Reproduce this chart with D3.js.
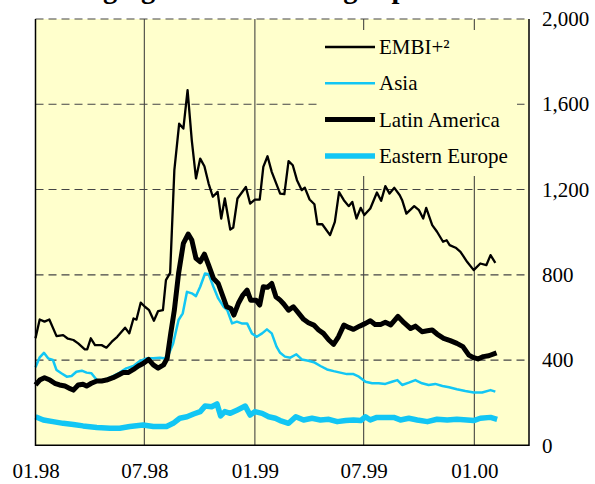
<!DOCTYPE html>
<html>
<head>
<meta charset="utf-8">
<script src="https://cdn.jsdelivr.net/npm/d3@7"></script>
<style>
  body { margin: 0; background: #fff; }
  svg { display: block; }
  text { font-family: "Liberation Serif", "Times New Roman", serif; }
</style>
</head>
<body>
<svg id="canvas"></svg>
<script>
let width = 595
let height = 484

// series: [date, spread in basis points]
let embi = [
  ['1998-01-01',502],['1998-01-08',590],['1998-01-16',580],['1998-01-24',590],['1998-02-05',512],
  ['1998-02-16',517],['1998-02-24',500],['1998-03-05',494],['1998-03-13',478],['1998-03-24',450],
  ['1998-03-28',450],['1998-04-03',502],['1998-04-10',470],['1998-04-21',470],['1998-04-29',458],
  ['1998-05-08',486],['1998-05-17',509],['1998-05-30',552],['1998-06-06',525],['1998-06-13',595],
  ['1998-06-18',590],['1998-06-25',669],['1998-07-02',650],['1998-07-09',634],['1998-07-17',584],
  ['1998-07-24',630],['1998-08-01',634],['1998-08-06',775],['1998-08-13',809],['1998-08-20',1291],
  ['1998-08-28',1509],['1998-09-04',1486],['1998-09-11',1666],['1998-09-18',1431],['1998-09-25',1252],
  ['1998-10-02',1345],['1998-10-09',1309],['1998-10-16',1228],['1998-10-23',1166],['1998-10-31',1189],
  ['1998-11-06',1064],['1998-11-12',1158],['1998-11-21',1012],['1998-11-26',1022],['1998-12-03',1158],
  ['1998-12-17',1212],['1998-12-24',1134],['1999-01-01',1153],['1999-01-09',1153],['1999-01-15',1306],
  ['1999-01-22',1356],['1999-01-29',1283],['1999-02-12',1181],['1999-02-19',1178],['1999-02-26',1333],
  ['1999-03-05',1314],['1999-03-12',1244],['1999-03-20',1197],['1999-03-25',1209],['1999-04-02',1153],
  ['1999-04-10',1131],['1999-04-15',1037],['1999-04-23',1037],['1999-05-06',986],['1999-05-14',1048],
  ['1999-05-21',1188],['1999-05-29',1150],['1999-06-06',1122],['1999-06-12',1142],['1999-06-19',1064],
  ['1999-06-26',1114],['1999-07-02',1080],['1999-07-12',1111],['1999-07-23',1186],['1999-07-30',1147],
  ['1999-08-06',1216],['1999-08-13',1181],['1999-08-21',1208],['1999-08-30',1173],['1999-09-03',1150],
  ['1999-09-10',1087],['1999-09-23',1122],['1999-10-01',1103],['1999-10-08',1064],['1999-10-13',1114],
  ['1999-10-23',1033],['1999-10-31',1002],['1999-11-10',955],['1999-11-16',962],['1999-11-21',939],
  ['1999-12-01',927],['1999-12-09',908],['1999-12-20',861],['1999-12-31',822],['2000-01-11',853],
  ['2000-01-21',845],['2000-01-28',892],['2000-02-05',856]
]

let asia = [
  ['1998-01-01',366],['1998-01-08',413],['1998-01-15',434],['1998-01-22',408],['1998-01-30',400],
  ['1998-02-05',353],['1998-02-13',338],['1998-02-22',322],['1998-03-02',325],['1998-03-10',345],
  ['1998-03-19',350],['1998-03-27',341],['1998-04-04',338],['1998-04-13',306],['1998-04-21',304],
  ['1998-04-29',310],['1998-05-10',325],['1998-05-21',341],['1998-06-01',361],['1998-06-13',372],
  ['1998-06-23',395],['1998-07-05',408],['1998-07-16',408],['1998-07-27',411],['1998-08-02',408],
  ['1998-08-09',416],['1998-08-18',478],['1998-08-27',588],['1998-09-03',619],['1998-09-10',720],
  ['1998-09-18',713],['1998-09-25',700],['1998-10-02',744],['1998-10-10',806],['1998-10-16',803],
  ['1998-10-24',744],['1998-11-01',689],['1998-11-10',650],['1998-11-16',634],['1998-11-24',572],
  ['1998-12-02',580],['1998-12-10',572],['1998-12-19',572],['1998-12-27',525],['1999-01-04',509],
  ['1999-01-13',525],['1999-01-21',544],['1999-01-29',525],['1999-02-06',463],['1999-02-12',434],
  ['1999-02-20',416],['1999-03-01',411],['1999-03-11',427],['1999-03-20',403],['1999-03-31',397],
  ['1999-04-09',390],['1999-04-20',372],['1999-05-01',356],['1999-05-12',348],['1999-05-23',341],
  ['1999-06-03',334],['1999-06-14',334],['1999-06-23',322],['1999-07-04',298],['1999-07-15',291],
  ['1999-07-26',291],['1999-08-06',288],['1999-08-17',298],['1999-08-26',306],['1999-09-03',283],
  ['1999-09-14',294],['1999-09-25',306],['1999-10-06',291],['1999-10-17',283],['1999-10-28',288],
  ['1999-11-09',278],['1999-11-20',272],['1999-12-03',263],['1999-12-17',255],['1999-12-31',248],
  ['2000-01-14',248],['2000-01-28',259],['2000-02-05',252]
]

let latin = [
  ['1998-01-01',283],['1998-01-08',306],['1998-01-16',317],['1998-01-25',306],['1998-02-02',291],
  ['1998-02-10',283],['1998-02-19',278],['1998-02-27',267],['1998-03-05',259],['1998-03-13',283],
  ['1998-03-21',286],['1998-03-27',278],['1998-04-04',291],['1998-04-13',302],['1998-04-21',302],
  ['1998-04-29',306],['1998-05-10',317],['1998-05-19',330],['1998-05-27',341],['1998-06-04',341],
  ['1998-06-13',356],['1998-06-21',372],['1998-06-29',384],['1998-07-08',403],['1998-07-16',377],
  ['1998-07-24',362],['1998-08-02',377],['1998-08-08',408],['1998-08-14',525],['1998-08-20',634],
  ['1998-08-27',806],['1998-09-04',947],['1998-09-12',991],['1998-09-18',963],['1998-09-25',877],
  ['1998-10-02',861],['1998-10-09',897],['1998-10-16',845],['1998-10-24',783],['1998-11-01',759],
  ['1998-11-09',697],['1998-11-15',650],['1998-11-22',642],['1998-11-27',611],['1998-12-05',669],
  ['1998-12-12',705],['1998-12-19',728],['1998-12-25',681],['1999-01-03',681],['1999-01-09',658],
  ['1999-01-15',744],['1999-01-22',741],['1999-01-29',759],['1999-02-05',697],['1999-02-12',681],
  ['1999-02-18',663],['1999-02-26',634],['1999-03-06',650],['1999-03-15',619],['1999-03-23',591],
  ['1999-03-31',575],['1999-04-09',564],['1999-04-17',541],['1999-04-25',525],['1999-05-04',494],
  ['1999-05-12',474],['1999-05-20',509],['1999-05-29',564],['1999-06-06',553],['1999-06-14',544],
  ['1999-06-24',559],['1999-07-04',572],['1999-07-12',584],['1999-07-20',567],['1999-07-29',567],
  ['1999-08-06',577],['1999-08-15',565],['1999-08-27',605],['1999-09-06',575],['1999-09-17',548],
  ['1999-09-25',559],['1999-10-06',533],['1999-10-15',537],['1999-10-23',541],['1999-10-31',522],
  ['1999-11-11',502],['1999-11-22',491],['1999-12-03',478],['1999-12-13',463],['1999-12-23',423],
  ['1999-12-31',411],['2000-01-07',405],['2000-01-16',416],['2000-01-25',420],['2000-02-07',434]
]

let eastEurope = [
  ['1998-01-01',134],['1998-01-14',119],['1998-01-30',111],['1998-02-16',103],['1998-03-05',98],
  ['1998-03-21',91],['1998-04-13',84],['1998-05-05',80],['1998-05-21',80],['1998-06-07',88],
  ['1998-06-29',95],['1998-07-16',88],['1998-08-07',88],['1998-08-18',103],['1998-08-29',127],
  ['1998-09-10',134],['1998-09-21',147],['1998-10-02',158],['1998-10-10',184],['1998-10-21',181],
  ['1998-10-30',194],['1998-11-05',138],['1998-11-12',158],['1998-11-21',150],['1998-12-03',166],
  ['1998-12-16',184],['1998-12-24',142],['1999-01-01',158],['1999-01-13',150],['1999-01-24',134],
  ['1999-02-04',127],['1999-02-12',116],['1999-02-26',103],['1999-03-10',134],['1999-03-23',119],
  ['1999-04-06',127],['1999-04-20',119],['1999-05-04',122],['1999-05-18',111],['1999-06-01',116],
  ['1999-06-14',119],['1999-06-26',116],['1999-07-04',134],['1999-07-12',119],['1999-07-23',131],
  ['1999-08-06',131],['1999-08-20',131],['1999-08-31',119],['1999-09-14',127],['1999-09-28',119],
  ['1999-10-15',111],['1999-10-31',122],['1999-11-17',119],['1999-12-03',122],['1999-12-20',119],
  ['1999-12-31',116],['2000-01-11',127],['2000-01-28',131],['2000-02-08',122]
]

let xTicks = ['1998-01-01','1998-07-01','1999-01-01','1999-07-01','2000-01-01']
let yTicks = [0, 400, 800, 1200, 1600, 2000]
let seriesNames = ['EMBI+\u00B2', 'Asia', 'Latin America', 'Eastern Europe']

let parse = d3.timeParse('%Y-%m-%d')
let cyan = '#12c6f4'
let styles = [
  {data: embi, color: '#000', w: 2.3},
  {data: asia, color: cyan, w: 2.5},
  {data: latin, color: '#000', w: 5},
  {data: eastEurope, color: cyan, w: 5.5}
]

let plotLeft = 35.5, plotRight = 529, plotTop = 19, plotBottom = 445.3

let xScale = d3.scaleTime()
  .domain([parse('1998-01-01'), parse('2000-04-01')])
  .range([plotLeft, plotRight])
let yScale = d3.scaleLinear().domain([0, 2000]).range([plotBottom, plotTop])

let canvas = d3.select('#canvas').attr('width', width).attr('height', height)

// title, clipped by the top edge as in the source
canvas.append('text')
  .attr('x', 35).attr('y', -2)
  .style('font-weight', 'bold').style('font-size', '28.5px')
  .text('Emerging market sovereign spreads')

canvas.append('rect')
  .attr('x', plotLeft).attr('y', plotTop)
  .attr('width', plotRight - plotLeft).attr('height', plotBottom - plotTop)
  .attr('fill', '#ffffcc')

// vertical grid
canvas.append('g').selectAll('line')
  .data(xTicks.slice(1)).enter().append('line')
  .attr('x1', d => xScale(parse(d))).attr('x2', d => xScale(parse(d)))
  .attr('y1', plotTop).attr('y2', plotBottom)
  .attr('stroke', '#333').attr('stroke-width', 1)

// dashed horizontal grid
canvas.append('g').selectAll('line')
  .data(yTicks.slice(1)).enter().append('line')
  .attr('x1', plotLeft).attr('x2', plotRight)
  .attr('y1', d => yScale(d)).attr('y2', d => yScale(d))
  .attr('stroke', '#444').attr('stroke-width', 1.2)
  .attr('stroke-dasharray', '8,5')

let line = d3.line()
  .x(d => xScale(parse(d[0])))
  .y(d => yScale(d[1]))

canvas.append('g').selectAll('path')
  .data(styles).enter().append('path')
  .attr('d', d => line(d.data))
  .attr('fill', 'none')
  .attr('stroke', d => d.color)
  .attr('stroke-width', d => d.w)
  .attr('stroke-linejoin', 'round')

// frame (left, bottom, right)
canvas.append('path')
  .attr('d', `M${plotLeft},${plotTop}V${plotBottom}H${plotRight}V${plotTop}`)
  .attr('fill', 'none').attr('stroke', '#000').attr('stroke-width', 1.5)

// legend
let legend = canvas.append('g').attr('id', 'legend')
legend.append('rect')
  .attr('x', 317).attr('y', 30).attr('width', 200).attr('height', 146)
  .attr('fill', '#ffffcc')
let items = legend.selectAll('g.item')
  .data(styles).enter().append('g')
  .attr('transform', (d, i) => `translate(325,${47 + i * 36.3})`)
items.append('line')
  .attr('x1', 0).attr('x2', 50)
  .attr('stroke', d => d.color).attr('stroke-width', d => d.w)
items.append('text')
  .attr('x', 54).attr('y', 7)
  .style('font-size', '21px')
  .text((d, i) => seriesNames[i])

// axes
let yAxis = d3.axisRight(yScale)
  .tickValues(yTicks).tickSize(0).tickPadding(13)
  .tickFormat(d3.format(','))
canvas.append('g')
  .attr('transform', `translate(${plotRight},0)`)
  .call(yAxis)
  .call(g => g.select('.domain').remove())
  .selectAll('text')
  .style('font-size', '21px').style('font-family', '"Liberation Serif", serif')

let xAxis = d3.axisBottom(xScale)
  .tickValues(xTicks.map(parse)).tickSize(0).tickPadding(18)
  .tickFormat(d3.timeFormat('%m.%y'))
canvas.append('g')
  .attr('transform', `translate(0,${plotBottom})`)
  .call(xAxis)
  .call(g => g.select('.domain').remove())
  .selectAll('text')
  .style('font-size', '21px').style('font-family', '"Liberation Serif", serif')
</script>
</body>
</html>
